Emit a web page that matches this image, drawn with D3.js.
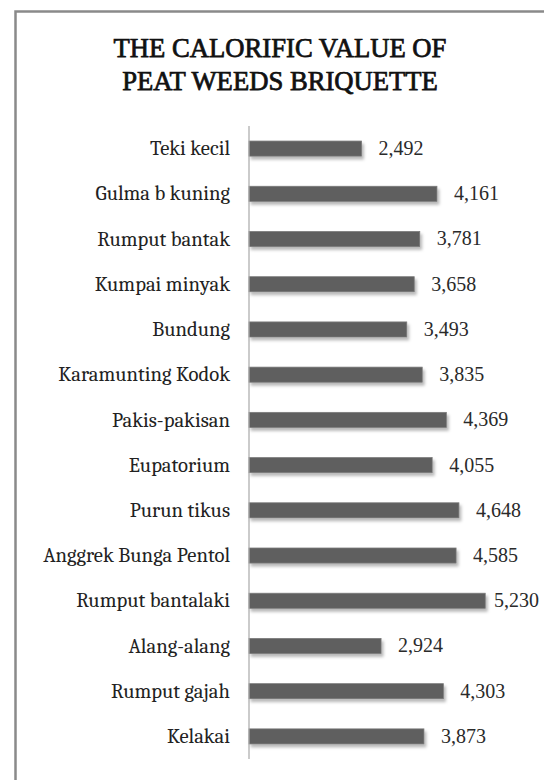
<!DOCTYPE html>
<html>
<head>
<meta charset="utf-8">
<script src="https://cdn.jsdelivr.net/npm/d3@7"></script>
<style>
  html, body { margin: 0; padding: 0; background: #fff; }
  svg { display: block; }
</style>
</head>
<body>
<svg id="chart" width="544" height="780"></svg>
<script>
const titleLines = ["THE CALORIFIC VALUE OF", "PEAT WEEDS BRIQUETTE"];
const categories = [
  "Teki kecil", "Gulma b kuning", "Rumput bantak", "Kumpai minyak", "Bundung",
  "Karamunting Kodok", "Pakis-pakisan", "Eupatorium", "Purun tikus",
  "Anggrek Bunga Pentol", "Rumput bantalaki", "Alang-alang", "Rumput gajah", "Kelakai"
];
const values = [2492, 4161, 3781, 3658, 3493, 3835, 4369, 4055, 4648, 4585, 5230, 2924, 4303, 3873];

const svg = d3.select("#chart");
const labelFont = "Cambria, 'Liberation Serif', serif";
const valueFont = "'Liberation Serif', serif";

const defs = svg.append("defs");
const f = defs.append("filter").attr("id", "shadow")
  .attr("x", "-10%").attr("y", "-50%").attr("width", "130%").attr("height", "250%");
f.append("feDropShadow").attr("dx", 2).attr("dy", 3).attr("stdDeviation", 1.6)
  .attr("flood-color", "#000").attr("flood-opacity", 0.28);

svg.append("rect")
  .attr("x", 15.5).attr("y", 11.5).attr("width", 600).attr("height", 820)
  .attr("fill", "#fff").attr("stroke", "#8a8a8a").attr("stroke-width", 2.5);

// title: serif regular with a thin stroke to embolden
const title = svg.append("text")
  .attr("text-anchor", "middle")
  .attr("font-family", "'Liberation Serif', serif")
  .attr("font-size", 25).attr("fill", "#111")
  .attr("stroke", "#111").attr("stroke-width", 0.75);
const tsp = titleLines.map((t, i) =>
  title.append("tspan").attr("x", 280).attr("y", 57 + i * 33).text(t));
{
  const w = tsp[0].node().getComputedTextLength();
  title.attr("font-size", 25 * 333 / w);
}

const x = d3.scaleLinear().domain([0, 6000]).range([249, 520]);
const y = d3.scaleBand().domain(categories).range([126, 759])
  .paddingInner(0.667).paddingOuter(0.333);

svg.append("g").selectAll("rect")
  .data(categories)
  .join("rect")
  .attr("x", x(0))
  .attr("y", d => y(d))
  .attr("width", (d, i) => x(values[i]) - x(0))
  .attr("height", y.bandwidth())
  .attr("fill", "#5e5e5e")
  .attr("stroke", "#7a7a7a").attr("stroke-width", 0.8)
  .attr("filter", "url(#shadow)");

const yAxis = d3.axisLeft(y).tickSize(0).tickPadding(19);
const gy = svg.append("g").attr("transform", `translate(${x(0)},0)`).call(yAxis);
gy.select(".domain").attr("stroke", "#a8a8a8").attr("stroke-width", 1.2)
  .attr("d", `M0,126V759`);
const ticks = gy.selectAll(".tick text")
  .attr("font-family", labelFont)
  .attr("font-size", 18)
  .attr("fill", "#222");
{
  let maxW = 0;
  ticks.each(function() { maxW = Math.max(maxW, this.getComputedTextLength()); });
  ticks.attr("font-size", 18 * 187 / maxW);
}

const fmt = d3.format(",");
const lbl = svg.append("g").selectAll("text")
  .data(categories)
  .join("text")
  .attr("font-family", valueFont)
  .attr("font-size", 20)
  .attr("fill", "#2a2a2a")
  .attr("dy", "0.32em")
  .attr("y", d => y(d) + y.bandwidth() / 2)
  .text((d, i) => fmt(values[i]));
lbl.each(function(d, i) {
  const w = this.getComputedTextLength();
  const px = Math.min(x(values[i]) + 17, 539 - w);
  d3.select(this).attr("x", px);
});
</script>
</body>
</html>
